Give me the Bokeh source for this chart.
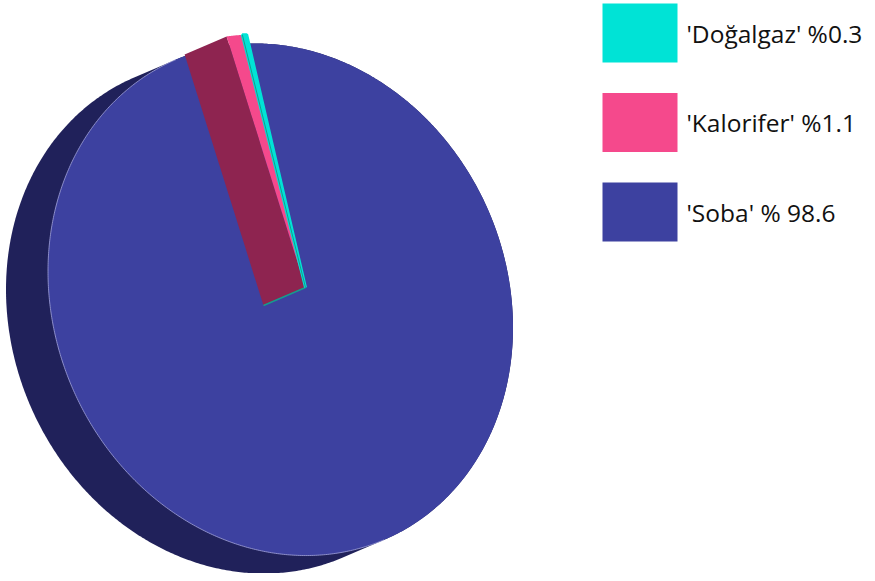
import numpy as np
from bokeh.plotting import figure
from bokeh.models import Range1d, ColumnDataSource
from bokeh.core.properties import value
from bokeh.embed import file_html
from bokeh.resources import INLINE

# ---- data ----
categories = ["Doğalgaz", "Kalorifer", "Soba"]
values = [0.3, 1.1, 98.6]
labels = ["'Doğalgaz' %0.3", "'Kalorifer' %1.1", "'Soba' % 98.6"]
top_colors = ["#00e3d6", "#f5498c", "#3d41a0"]
side_colors = ["#159c8e", "#8e2450", "#20215a"]
pie_order = ["Kalorifer", "Doğalgaz", "Soba"]   # clockwise from the start angle

# ---- layout (pixel space of the page) ----
W, H = 867, 573
C = np.array([280.0, 299.0])          # centre of the top face ellipse
U = np.array([232.5, 28.0])
V = np.array([0.0, 254.5])
D = np.array([-42.0, 18.0])           # depth (extrusion) vector
APEX_SMALL = np.array([305.0, 287.0]) # apex of pulled-out small slices
EXPLODE = np.array([0.0, -9.0])
START = -13.4                         # degrees, clockwise from 12 o'clock

def rim(theta_deg, center=C):
    t = np.radians(np.asarray(theta_deg) - 90.0)
    return (center[:, None] + U[:, None] * np.cos(t) + V[:, None] * np.sin(t)).T

def hull(pts):
    pts = sorted(map(tuple, pts))
    def cross(o, a, b):
        return (a[0]-o[0])*(b[1]-o[1]) - (a[1]-o[1])*(b[0]-o[0])
    lower, upper = [], []
    for p_ in pts:
        while len(lower) >= 2 and cross(lower[-2], lower[-1], p_) <= 0:
            lower.pop()
        lower.append(p_)
    for p_ in reversed(pts):
        while len(upper) >= 2 and cross(upper[-2], upper[-1], p_) <= 0:
            upper.pop()
        upper.append(p_)
    return np.array(lower[:-1] + upper[:-1])

vals = dict(zip(categories, values))
tops = dict(zip(categories, top_colors))
sides = dict(zip(categories, side_colors))
total = sum(values)

angles = {}
a = START
for c in pie_order:
    span = vals[c] / total * 360.0
    angles[c] = (a, a + span)
    a += span

p = figure(width=W, height=H, output_backend="svg", toolbar_location=None,
           x_range=Range1d(0, W), y_range=Range1d(H, 0),
           min_border=0, outline_line_color=None)
p.axis.visible = False
p.grid.visible = False
p.background_fill_color = "white"
p.border_fill_color = "white"

# dark body (side) of the big slice
full = rim(np.linspace(0, 360, 721))
body = hull(np.vstack([full, full + D]))
p.patch(body[:, 0], body[:, 1], fill_color=sides["Soba"], line_color=None)

# top face of the big slice
s0, s1 = angles["Soba"]
th = np.linspace(s0, s1, 720)
arc = rim(th)
xs = np.concatenate([[C[0]], arc[:, 0]])
ys = np.concatenate([[C[1]], arc[:, 1]])
p.patch(xs, ys, fill_color=tops["Soba"], line_color=None)

# thin light edge where the top face meets the dark body
t = np.radians(th - 90.0)
tang = (-U[:, None] * np.sin(t) + V[:, None] * np.cos(t)).T
normal = np.stack([tang[:, 1], -tang[:, 0]], axis=1)
normal *= np.sign(np.sum(normal * (arc - C), axis=1))[:, None]
mask = normal @ D > 0
idx_edge = np.where(mask)[0]
p.line(arc[idx_edge, 0], arc[idx_edge, 1], line_color="#a3a5dc", line_width=0.8)

# radial wall of the pulled-out slices
k0, _ = angles["Kalorifer"]
R = rim([k0], C + EXPLODE)[0]
wall = np.array([APEX_SMALL, R, R + D, APEX_SMALL + D])
p.patch(wall[:, 0], wall[:, 1], fill_color=sides["Kalorifer"], line_color=None)
p.line([APEX_SMALL[0], APEX_SMALL[0] + D[0]], [APEX_SMALL[1], APEX_SMALL[1] + D[1]],
       line_color=sides["Doğalgaz"], line_width=1.5)

# top faces of the small slices
for c in ["Kalorifer", "Doğalgaz"]:
    a0, a1 = angles[c]
    arc = rim(np.linspace(a0, a1, 30), C + EXPLODE)
    xs = np.concatenate([[APEX_SMALL[0]], arc[:, 0]])
    ys = np.concatenate([[APEX_SMALL[1]], arc[:, 1]])
    if c == "Doğalgaz":
        p.patch(xs, ys, fill_color=tops[c], line_color=tops[c], line_width=3)
        p.line(xs[:2], ys[:2], line_color=sides[c], line_width=1)
    else:
        p.patch(xs, ys, fill_color=tops[c], line_color=None)

# legend
LX0, LX1, LY0, LH, LSTEP, TX = 602, 677, 3, 59, 89.5, 686
idx = np.arange(len(categories))
src = ColumnDataSource(dict(
    left=[LX0] * len(categories), right=[LX1] * len(categories),
    top=LY0 + idx * LSTEP, bottom=LY0 + idx * LSTEP + LH,
    ty=LY0 + idx * LSTEP + LH / 2, label=labels, color=top_colors))
p.quad(left="left", right="right", top="top", bottom="bottom", fill_color="color",
       line_color=None, source=src)
p.text(x=TX, y="ty", text="label", source=src, text_font=value("Open Sans"),
       text_font_size="24.5px", text_baseline="middle", text_color="#111111")

open("out.html", "w").write(file_html(p, INLINE))
